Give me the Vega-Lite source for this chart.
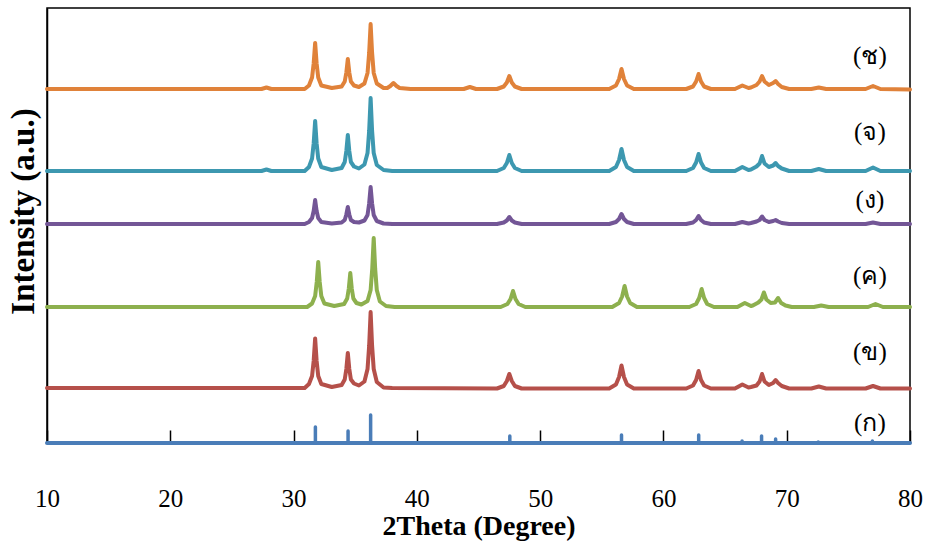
{
  "$schema": "https://vega.github.io/schema/vega-lite/v6.json",
  "width": 863,
  "height": 435,
  "autosize": {"type": "none"},
  "padding": {"left": 47, "top": 8, "right": 18, "bottom": 107},
  "background": "white",
  "config": {"view": {"stroke": "#000", "strokeWidth": 1.5}, "font": "Times New Roman, Liberation Serif, DejaVu Serif, serif"},
  "datasets": {
    "curves": [
      {"s":"ช","x":10,"y":354},{"s":"ช","x":27.4,"y":354},{"s":"ช","x":27.8,"y":355.5},{"s":"ช","x":28.2,"y":354},{"s":"ช","x":30.9,"y":354},
      {"s":"ช","x":31.25,"y":357.5},{"s":"ช","x":31.5,"y":365.5},{"s":"ช","x":31.63,"y":379.5},{"s":"ช","x":31.75,"y":400},{"s":"ช","x":31.87,"y":379.5},{"s":"ช","x":32,"y":365.5},{"s":"ช","x":32.25,"y":357.5},
      {"s":"ช","x":33.1,"y":355},
      {"s":"ช","x":33.9,"y":356.5},{"s":"ช","x":34.15,"y":361.5},{"s":"ช","x":34.28,"y":370.5},{"s":"ช","x":34.4,"y":384},{"s":"ช","x":34.52,"y":370.5},{"s":"ช","x":34.65,"y":361.5},{"s":"ช","x":34.9,"y":357.5},
      {"s":"ช","x":35.3,"y":356},
      {"s":"ช","x":35.75,"y":359.5},{"s":"ช","x":36,"y":370},{"s":"ช","x":36.13,"y":390},{"s":"ช","x":36.25,"y":419},{"s":"ช","x":36.37,"y":390},{"s":"ช","x":36.5,"y":370},{"s":"ช","x":36.75,"y":359.5},
      {"s":"ช","x":37.3,"y":355},{"s":"ช","x":37.6,"y":355},{"s":"ช","x":37.85,"y":357},{"s":"ช","x":38.1,"y":360},{"s":"ช","x":38.35,"y":357},{"s":"ช","x":38.6,"y":355},{"s":"ช","x":39.5,"y":354},
      {"s":"ช","x":43.8,"y":354},{"s":"ช","x":44.3,"y":356},{"s":"ช","x":44.8,"y":354},
      {"s":"ช","x":46.5,"y":354},{"s":"ช","x":47.05,"y":356.5},{"s":"ช","x":47.3,"y":360.5},{"s":"ช","x":47.5,"y":367},{"s":"ช","x":47.7,"y":360.5},{"s":"ช","x":47.95,"y":356.5},{"s":"ช","x":48.5,"y":354},
      {"s":"ช","x":55.6,"y":354},{"s":"ช","x":56.15,"y":357.5},{"s":"ช","x":56.4,"y":364},{"s":"ช","x":56.6,"y":374},{"s":"ช","x":56.8,"y":364},{"s":"ช","x":57.05,"y":357.5},{"s":"ช","x":57.6,"y":354},
      {"s":"ช","x":61.85,"y":354},{"s":"ช","x":62.4,"y":356.5},{"s":"ช","x":62.65,"y":361.5},{"s":"ช","x":62.85,"y":369},{"s":"ช","x":63.05,"y":361.5},{"s":"ช","x":63.3,"y":356.5},{"s":"ช","x":63.85,"y":354},
      {"s":"ช","x":65.8,"y":354},{"s":"ช","x":66.4,"y":357.5},{"s":"ช","x":66.9,"y":355},{"s":"ช","x":67.1,"y":355.5},{"s":"ช","x":67.55,"y":358},{"s":"ช","x":67.8,"y":361.5},{"s":"ช","x":68,"y":367},{"s":"ช","x":68.2,"y":361.5},{"s":"ช","x":68.55,"y":358},{"s":"ช","x":68.9,"y":360},{"s":"ช","x":69.1,"y":362},{"s":"ช","x":69.3,"y":359},{"s":"ช","x":69.6,"y":356},{"s":"ช","x":70.2,"y":354},
      {"s":"ช","x":72,"y":354},{"s":"ช","x":72.6,"y":355.5},{"s":"ช","x":73.2,"y":354},{"s":"ช","x":76.4,"y":354},{"s":"ช","x":77,"y":357},{"s":"ช","x":77.6,"y":354},{"s":"ช","x":80,"y":353.5},

      {"s":"จ","x":10,"y":272},{"s":"จ","x":27.4,"y":272},{"s":"จ","x":27.8,"y":273.5},{"s":"จ","x":28.2,"y":272},{"s":"จ","x":30.9,"y":272},
      {"s":"จ","x":31.25,"y":276},{"s":"จ","x":31.5,"y":284.5},{"s":"จ","x":31.63,"y":299.5},{"s":"จ","x":31.75,"y":322},{"s":"จ","x":31.87,"y":299.5},{"s":"จ","x":32,"y":284.5},{"s":"จ","x":32.25,"y":276},
      {"s":"จ","x":33.1,"y":273},
      {"s":"จ","x":33.9,"y":275},{"s":"จ","x":34.15,"y":281},{"s":"จ","x":34.28,"y":292},{"s":"จ","x":34.4,"y":308},{"s":"จ","x":34.52,"y":292},{"s":"จ","x":34.65,"y":281},{"s":"จ","x":34.9,"y":276.5},
      {"s":"จ","x":35.3,"y":274.5},
      {"s":"จ","x":35.75,"y":278.5},{"s":"จ","x":36,"y":290},{"s":"จ","x":36.13,"y":312},{"s":"จ","x":36.25,"y":345},{"s":"จ","x":36.37,"y":312},{"s":"จ","x":36.5,"y":290},{"s":"จ","x":36.75,"y":278},
      {"s":"จ","x":37.3,"y":273},{"s":"จ","x":38,"y":272},
      {"s":"จ","x":46.5,"y":272},{"s":"จ","x":47.05,"y":275},{"s":"จ","x":47.3,"y":280},{"s":"จ","x":47.5,"y":288},{"s":"จ","x":47.7,"y":280},{"s":"จ","x":47.95,"y":275},{"s":"จ","x":48.5,"y":272},
      {"s":"จ","x":55.6,"y":272},{"s":"จ","x":56.15,"y":276},{"s":"จ","x":56.4,"y":283},{"s":"จ","x":56.6,"y":294},{"s":"จ","x":56.8,"y":283},{"s":"จ","x":57.05,"y":276},{"s":"จ","x":57.6,"y":272},
      {"s":"จ","x":61.85,"y":272},{"s":"จ","x":62.4,"y":275},{"s":"จ","x":62.65,"y":280.5},{"s":"จ","x":62.85,"y":289},{"s":"จ","x":63.05,"y":280.5},{"s":"จ","x":63.3,"y":275},{"s":"จ","x":63.85,"y":272},
      {"s":"จ","x":65.8,"y":272},{"s":"จ","x":66.4,"y":276},{"s":"จ","x":66.9,"y":273},{"s":"จ","x":67.1,"y":273.5},{"s":"จ","x":67.55,"y":276.5},{"s":"จ","x":67.8,"y":279.5},{"s":"จ","x":68,"y":287},{"s":"จ","x":68.2,"y":279.5},{"s":"จ","x":68.55,"y":276},{"s":"จ","x":68.9,"y":277.5},{"s":"จ","x":69.1,"y":280},{"s":"จ","x":69.3,"y":277},{"s":"จ","x":69.6,"y":274.5},{"s":"จ","x":70.2,"y":272},
      {"s":"จ","x":72,"y":272},{"s":"จ","x":72.6,"y":274},{"s":"จ","x":73.2,"y":272},{"s":"จ","x":76.4,"y":272},{"s":"จ","x":77,"y":275.5},{"s":"จ","x":77.6,"y":272},{"s":"จ","x":80,"y":272},

      {"s":"ง","x":10,"y":219},{"s":"ง","x":30.9,"y":219},
      {"s":"ง","x":31.25,"y":221},{"s":"ง","x":31.5,"y":225},{"s":"ง","x":31.63,"y":232},{"s":"ง","x":31.75,"y":243},{"s":"ง","x":31.87,"y":232},{"s":"ง","x":32,"y":225},{"s":"ง","x":32.25,"y":221},
      {"s":"ง","x":33.1,"y":219.5},
      {"s":"ง","x":33.9,"y":220.5},{"s":"ง","x":34.15,"y":223},{"s":"ง","x":34.28,"y":228.5},{"s":"ง","x":34.4,"y":236},{"s":"ง","x":34.52,"y":228.5},{"s":"ง","x":34.65,"y":223},{"s":"ง","x":34.9,"y":221},
      {"s":"ง","x":35.3,"y":220.5},
      {"s":"ง","x":35.75,"y":222.5},{"s":"ง","x":36,"y":228},{"s":"ง","x":36.13,"y":239.5},{"s":"ง","x":36.25,"y":256},{"s":"ง","x":36.37,"y":239.5},{"s":"ง","x":36.5,"y":228},{"s":"ง","x":36.75,"y":222},
      {"s":"ง","x":37.3,"y":219.5},{"s":"ง","x":38,"y":219},
      {"s":"ง","x":46.5,"y":219},{"s":"ง","x":47.05,"y":220.5},{"s":"ง","x":47.3,"y":222.5},{"s":"ง","x":47.5,"y":226},{"s":"ง","x":47.7,"y":222.5},{"s":"ง","x":47.95,"y":220.5},{"s":"ง","x":48.5,"y":219},
      {"s":"ง","x":55.6,"y":219},{"s":"ง","x":56.15,"y":221},{"s":"ง","x":56.4,"y":224},{"s":"ง","x":56.6,"y":229},{"s":"ง","x":56.8,"y":224},{"s":"ง","x":57.05,"y":221},{"s":"ง","x":57.6,"y":219},
      {"s":"ง","x":61.85,"y":219},{"s":"ง","x":62.4,"y":220.5},{"s":"ง","x":62.65,"y":223},{"s":"ง","x":62.85,"y":227},{"s":"ง","x":63.05,"y":223},{"s":"ง","x":63.3,"y":220.5},{"s":"ง","x":63.85,"y":219},
      {"s":"ง","x":65.8,"y":219},{"s":"ง","x":66.4,"y":221},{"s":"ง","x":66.9,"y":219.5},{"s":"ง","x":67.1,"y":220},{"s":"ง","x":67.55,"y":221.5},{"s":"ง","x":67.8,"y":223},{"s":"ง","x":68,"y":226.5},{"s":"ง","x":68.2,"y":223},{"s":"ง","x":68.55,"y":221},{"s":"ง","x":68.9,"y":222},{"s":"ง","x":69.1,"y":223},{"s":"ง","x":69.3,"y":221.5},{"s":"ง","x":69.6,"y":220},{"s":"ง","x":70.2,"y":219},
      {"s":"ง","x":76.4,"y":219},{"s":"ง","x":77,"y":220.5},{"s":"ง","x":77.6,"y":219},{"s":"ง","x":80,"y":219},

      {"s":"ค","x":10,"y":136},{"s":"ค","x":31.1,"y":136},
      {"s":"ค","x":31.5,"y":139.5},{"s":"ค","x":31.75,"y":147},{"s":"ค","x":31.88,"y":161},{"s":"ค","x":32,"y":181},{"s":"ค","x":32.12,"y":161},{"s":"ค","x":32.25,"y":147},{"s":"ค","x":32.5,"y":139.5},
      {"s":"ค","x":33.3,"y":137},
      {"s":"ค","x":34.1,"y":139},{"s":"ค","x":34.35,"y":144.5},{"s":"ค","x":34.48,"y":154.5},{"s":"ค","x":34.6,"y":170},{"s":"ค","x":34.72,"y":154.5},{"s":"ค","x":34.85,"y":144.5},{"s":"ค","x":35.1,"y":140},
      {"s":"ค","x":35.5,"y":138.5},
      {"s":"ค","x":36,"y":142},{"s":"ค","x":36.25,"y":153},{"s":"ค","x":36.38,"y":174},{"s":"ค","x":36.5,"y":205},{"s":"ค","x":36.62,"y":174},{"s":"ค","x":36.75,"y":153},{"s":"ค","x":37,"y":141.5},
      {"s":"ค","x":37.5,"y":137},{"s":"ค","x":38.2,"y":136},
      {"s":"ค","x":46.8,"y":136},{"s":"ค","x":47.35,"y":139},{"s":"ค","x":47.6,"y":144},{"s":"ค","x":47.8,"y":152},{"s":"ค","x":48,"y":144},{"s":"ค","x":48.25,"y":139},{"s":"ค","x":48.8,"y":136},
      {"s":"ค","x":55.85,"y":136},{"s":"ค","x":56.4,"y":140},{"s":"ค","x":56.65,"y":146.5},{"s":"ค","x":56.85,"y":157},{"s":"ค","x":57.05,"y":146.5},{"s":"ค","x":57.3,"y":140},{"s":"ค","x":57.85,"y":136},
      {"s":"ค","x":62.1,"y":136},{"s":"ค","x":62.65,"y":139},{"s":"ค","x":62.9,"y":145},{"s":"ค","x":63.1,"y":154},{"s":"ค","x":63.3,"y":145},{"s":"ค","x":63.55,"y":139},{"s":"ค","x":64.1,"y":136},
      {"s":"ค","x":66,"y":136},{"s":"ค","x":66.6,"y":140},{"s":"ค","x":67.1,"y":137},{"s":"ค","x":67.25,"y":137.5},{"s":"ค","x":67.7,"y":140.5},{"s":"ค","x":67.95,"y":143.5},{"s":"ค","x":68.15,"y":150.5},{"s":"ค","x":68.35,"y":143.5},{"s":"ค","x":68.7,"y":140},{"s":"ค","x":69.05,"y":140.5},{"s":"ค","x":69.3,"y":145},{"s":"ค","x":69.55,"y":140},{"s":"ค","x":69.9,"y":137.5},{"s":"ค","x":70.4,"y":136},
      {"s":"ค","x":72.2,"y":136},{"s":"ค","x":72.8,"y":137.5},{"s":"ค","x":73.4,"y":136},{"s":"ค","x":76.6,"y":136},{"s":"ค","x":77.2,"y":139},{"s":"ค","x":77.8,"y":136},{"s":"ค","x":80,"y":136},

      {"s":"ข","x":10,"y":55},{"s":"ข","x":30.9,"y":55},
      {"s":"ข","x":31.25,"y":59},{"s":"ข","x":31.5,"y":67},{"s":"ข","x":31.63,"y":82},{"s":"ข","x":31.75,"y":104.5},{"s":"ข","x":31.87,"y":82},{"s":"ข","x":32,"y":67},{"s":"ข","x":32.25,"y":59},
      {"s":"ข","x":33.1,"y":56},
      {"s":"ข","x":33.9,"y":58},{"s":"ข","x":34.15,"y":63.5},{"s":"ข","x":34.28,"y":74},{"s":"ข","x":34.4,"y":90},{"s":"ข","x":34.52,"y":74},{"s":"ข","x":34.65,"y":63.5},{"s":"ข","x":34.9,"y":59.5},
      {"s":"ข","x":35.3,"y":57.5},
      {"s":"ข","x":35.75,"y":61.5},{"s":"ข","x":36,"y":74},{"s":"ข","x":36.13,"y":97},{"s":"ข","x":36.25,"y":131},{"s":"ข","x":36.37,"y":97},{"s":"ข","x":36.5,"y":74},{"s":"ข","x":36.75,"y":61},
      {"s":"ข","x":37.3,"y":55.5},{"s":"ข","x":38,"y":55},
      {"s":"ข","x":46.5,"y":54.5},{"s":"ข","x":47.05,"y":57},{"s":"ข","x":47.3,"y":62},{"s":"ข","x":47.5,"y":69},{"s":"ข","x":47.7,"y":62},{"s":"ข","x":47.95,"y":57},{"s":"ข","x":48.5,"y":54.5},
      {"s":"ข","x":55.6,"y":54.5},{"s":"ข","x":56.15,"y":58.5},{"s":"ข","x":56.4,"y":66},{"s":"ข","x":56.6,"y":77.5},{"s":"ข","x":56.8,"y":66},{"s":"ข","x":57.05,"y":58.5},{"s":"ข","x":57.6,"y":54.5},
      {"s":"ข","x":61.85,"y":54.5},{"s":"ข","x":62.4,"y":57.5},{"s":"ข","x":62.65,"y":63},{"s":"ข","x":62.85,"y":72},{"s":"ข","x":63.05,"y":63},{"s":"ข","x":63.3,"y":57.5},{"s":"ข","x":63.85,"y":54.5},
      {"s":"ข","x":65.8,"y":54.5},{"s":"ข","x":66.4,"y":58.5},{"s":"ข","x":66.9,"y":55.5},{"s":"ข","x":67.1,"y":56},{"s":"ข","x":67.55,"y":57.5},{"s":"ข","x":67.8,"y":61.5},{"s":"ข","x":68,"y":69},{"s":"ข","x":68.2,"y":61.5},{"s":"ข","x":68.55,"y":58},{"s":"ข","x":68.9,"y":60},{"s":"ข","x":69.1,"y":63},{"s":"ข","x":69.3,"y":60},{"s":"ข","x":69.6,"y":57},{"s":"ข","x":70.2,"y":54.5},
      {"s":"ข","x":72,"y":54.5},{"s":"ข","x":72.6,"y":56.5},{"s":"ข","x":73.2,"y":54.5},{"s":"ข","x":76.4,"y":54.5},{"s":"ข","x":77,"y":57},{"s":"ข","x":77.6,"y":54.5},{"s":"ข","x":80,"y":54.5},

      {"s":"ก","x":10,"y":0},{"s":"ก","x":80,"y":0}
    ],
    "sticks": [
      {"x":31.77,"h":16},{"x":34.42,"h":12},{"x":36.25,"h":28},{"x":47.54,"h":7},{"x":56.6,"h":8},{"x":62.86,"h":8},
      {"x":66.38,"h":2},{"x":67.96,"h":7},{"x":69.1,"h":4},{"x":72.56,"h":1},{"x":76.95,"h":2}
    ],
    "labels": [
      {"t":"(ช)","x":76.75,"y":387},
      {"t":"(จ)","x":76.75,"y":311},
      {"t":"(ง)","x":76.75,"y":243},
      {"t":"(ค)","x":76.75,"y":167},
      {"t":"(ข)","x":76.75,"y":91},
      {"t":"(ก)","x":76.75,"y":20}
    ]
  },
  "layer": [
    {
      "data": {"name": "curves"},
      "mark": {"type": "line", "strokeWidth": 4, "strokeJoin": "round", "strokeCap": "round"},
      "encoding": {
        "x": {
          "field": "x", "type": "quantitative",
          "scale": {"domain": [10, 80], "nice": false, "zero": false},
          "axis": {
            "values": [10, 20, 30, 40, 50, 60, 70, 80],
            "tickSize": -13, "tickColor": "#000", "tickWidth": 1.5,
            "domainColor": "#000", "domainWidth": 1.5, "grid": false,
            "labelFont": "Times New Roman, Liberation Serif, DejaVu Serif, serif", "labelFontSize": 25, "labelColor": "#000",
            "labelBaseline": "alphabetic", "labelPadding": 76, "labelFlush": false, "labelOverlap": false,
            "title": "2Theta (Degree)", "titleFont": "Times New Roman, Liberation Serif, DejaVu Serif, serif", "titleFontSize": 28,
            "titleFontWeight": "bold", "titleColor": "#000", "titleBaseline": "alphabetic", "titleY": 91
          }
        },
        "y": {
          "field": "y", "type": "quantitative",
          "scale": {"domain": [0, 435], "nice": false, "zero": false},
          "axis": {
            "labels": false, "ticks": false, "grid": false,
            "domainColor": "#000", "domainWidth": 1.5,
            "title": "Intensity (a.u.)", "titleFont": "Times New Roman, Liberation Serif, DejaVu Serif, serif", "titleFontSize": 33,
            "titleFontWeight": "bold", "titleColor": "#000", "titleBaseline": "alphabetic",
            "titleX": -14, "titleY": 203
          }
        },
        "color": {
          "field": "s", "type": "nominal", "legend": null,
          "scale": {"domain": ["ก", "ข", "ค", "ง", "จ", "ช"], "range": ["#4A7DB8", "#B5504A", "#8DB04E", "#735696", "#3D98B0", "#E0823A"]}
        }
      }
    },
    {
      "data": {"name": "sticks"},
      "mark": {"type": "rule", "strokeWidth": 3.5, "color": "#4A7DB8", "strokeCap": "round"},
      "encoding": {
        "x": {"field": "x", "type": "quantitative"},
        "y": {"field": "h", "type": "quantitative"},
        "y2": {"datum": 0}
      }
    },
    {
      "data": {"name": "labels"},
      "mark": {"type": "text", "font": "Times New Roman, Liberation Serif, DejaVu Serif, serif", "fontSize": 25, "color": "#000", "baseline": "middle", "align": "center"},
      "encoding": {
        "x": {"field": "x", "type": "quantitative"},
        "y": {"field": "y", "type": "quantitative"},
        "text": {"field": "t"}
      }
    }
  ]
}
